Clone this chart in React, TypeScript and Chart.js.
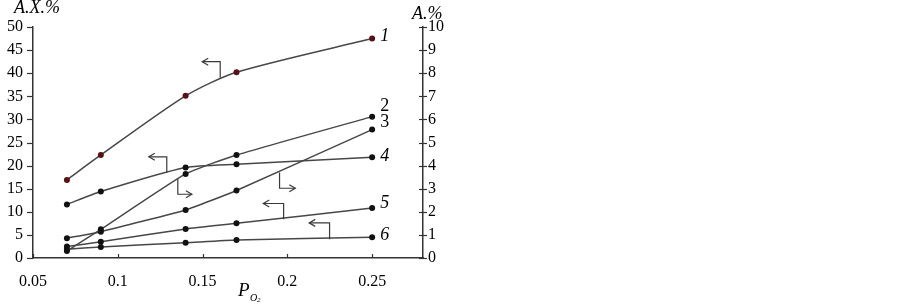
import React, { useEffect, useRef } from "react";
import { Chart, registerables } from "chart.js";

Chart.register(...registerables);

// ---- data ----
const pO2 = [0.07, 0.09, 0.14, 0.17, 0.25];
const series1 = [16.9, 22.3, 35.1, 40.2, 47.5]; // A.X.% (left)
const series2 = [0.3, 1.24, 3.64, 4.46, 6.12]; // A.% (right)
const series3 = [0.86, 1.14, 2.08, 2.92, 5.56]; // A.% (right)
const series4 = [11.6, 14.4, 19.6, 20.3, 21.8]; // A.X.% (left)
const series5 = [2.5, 3.5, 6.3, 7.5, 10.8]; // A.X.% (left)
const series6 = [1.9, 2.4, 3.3, 3.9, 4.5]; // A.X.% (left)
const seriesNames = ["1", "2", "3", "4", "5", "6"];
const xTicks = [0.05, 0.1, 0.15, 0.2, 0.25];
const xTickLabels = ["0.05", "0.1", "0.15", "0.2", "0.25"];
const leftTicks = [0, 5, 10, 15, 20, 25, 30, 35, 40, 45, 50];
const rightTicks = [0, 1, 2, 3, 4, 5, 6, 7, 8, 9, 10];
// arrows in data units (left axis): vertical from (ax, y0) to (ax, y1), then horizontal to x1
const arrowX = [0.1604, 0.1289, 0.1354, 0.1954, 0.1978, 0.2249];
const arrowY0 = [39.0, 18.5, 17.1, 18.5, 8.4, 4.05];
const arrowY1 = [42.5, 21.9, 13.8, 15.1, 11.8, 7.6];
const arrowX1 = [0.1498, 0.1183, 0.1437, 0.2047, 0.1858, 0.2129];

const SERIF = '"Liberation Serif", "Times New Roman", serif';
const LINE = "#474747";
const AXIS = "#333";

const overlay = {
  id: "overlay",
  afterDraw(chart: any) {
    const ctx = chart.ctx;
    const x = chart.scales.x;
    const y = chart.scales.y;
    const y2 = chart.scales.y2;
    const area = chart.chartArea;
    ctx.save();
    ctx.strokeStyle = AXIS;
    ctx.lineWidth = 1.2;
    // left ticks (outward)
    leftTicks.forEach((v) => {
      const py = Math.round(y.getPixelForValue(v)) + 0.5;
      ctx.beginPath();
      ctx.moveTo(area.left - 6, py);
      ctx.lineTo(area.left, py);
      ctx.stroke();
    });
    // right ticks (cross)
    rightTicks.forEach((v) => {
      const py = Math.round(y2.getPixelForValue(v)) + 0.5;
      ctx.beginPath();
      ctx.moveTo(area.right - 4, py);
      ctx.lineTo(area.right + 4, py);
      ctx.stroke();
    });
    // x ticks (inward)
    xTicks.forEach((v) => {
      const px = Math.round(x.getPixelForValue(v)) + 0.5;
      ctx.beginPath();
      ctx.moveTo(px, area.bottom);
      ctx.lineTo(px, area.bottom - 4);
      ctx.stroke();
    });
    // arrows
    ctx.strokeStyle = "#3a3a3a";
    ctx.lineWidth = 1.2;
    arrowX.forEach((ax, i) => {
      const px = x.getPixelForValue(ax);
      const p0 = y.getPixelForValue(arrowY0[i]);
      const p1 = y.getPixelForValue(arrowY1[i]);
      const px1 = x.getPixelForValue(arrowX1[i]);
      ctx.beginPath();
      ctx.moveTo(px, p0);
      ctx.lineTo(px, p1);
      ctx.lineTo(px1, p1);
      ctx.stroke();
      const dir = px1 < px ? 1 : -1;
      ctx.beginPath();
      ctx.moveTo(px1 + dir * 6, p1 - 3.5);
      ctx.lineTo(px1, p1);
      ctx.lineTo(px1 + dir * 6, p1 + 3.5);
      ctx.stroke();
    });
    // series labels
    ctx.fillStyle = "#000";
    ctx.textBaseline = "middle";
    ctx.textAlign = "left";
    const ends = [
      { v: series1[4], s: y, italic: true, dy: -2 },
      { v: series2[4], s: y2, italic: false, dy: -10 },
      { v: series3[4], s: y2, italic: false, dy: -7 },
      { v: series4[4], s: y, italic: true, dy: -1 },
      { v: series5[4], s: y, italic: true, dy: -5 },
      { v: series6[4], s: y, italic: true, dy: -2 },
    ];
    const lx = x.getPixelForValue(pO2[4]);
    ends.forEach((e, i) => {
      ctx.font = (e.italic ? "italic " : "") + "18px " + SERIF;
      ctx.fillText(seriesNames[i], lx + 8, e.s.getPixelForValue(e.v) + e.dy);
    });
    // axis titles
    ctx.font = "italic 18px " + SERIF;
    ctx.textAlign = "left";
    ctx.fillText("A.X.%", 14, 8);
    ctx.fillText("A.%", 412, 14);
    ctx.font = "italic 19px " + SERIF;
    const cx = (area.left + area.right) / 2;
    ctx.fillText("P", cx + 10, 291);
    ctx.font = "italic 10px " + SERIF;
    ctx.fillText("O", cx + 22, 298);
    ctx.font = "italic 7px " + SERIF;
    ctx.fillText("2", cx + 29, 300);
    ctx.restore();
  },
};

export default function App() {
  const ref = useRef<HTMLCanvasElement>(null);
  useEffect(() => {
    if (!ref.current) return;
    const mk = (label: string, data: number[], axis: string, pc: string, tension: number) => ({
      label,
      data: data.map((v, i) => ({ x: pO2[i], y: v })),
      yAxisID: axis,
      borderColor: LINE,
      borderWidth: 1.5,
      pointRadius: 3,
      pointBackgroundColor: pc,
      pointBorderColor: pc,
      pointBorderWidth: 0,
      tension,
      fill: false,
    });
    const chart = new Chart(ref.current, {
      type: "line",
      data: {
        datasets: [
          mk(seriesNames[0], series1, "y", "#5a0f14", 0.25),
          mk(seriesNames[1], series2, "y2", "#111", 0.15),
          mk(seriesNames[2], series3, "y2", "#111", 0.15),
          mk(seriesNames[3], series4, "y", "#111", 0.2),
          mk(seriesNames[4], series5, "y", "#111", 0.15),
          mk(seriesNames[5], series6, "y", "#111", 0.15),
        ] as any,
      },
      options: {
        responsive: false,
        animation: false,
        devicePixelRatio: 1,
        layout: { padding: { top: 27, left: 0, right: 0, bottom: 0 } },
        plugins: { legend: { display: false }, tooltip: { enabled: false } },
        scales: {
          x: {
            type: "linear",
            min: 0.05,
            max: 0.28,
            afterBuildTicks: (s: any) => {
              s.ticks = xTicks.map((v) => ({ value: v }));
            },
            afterFit: (s: any) => {
              s.height = 48;
            },
            grid: { display: false, drawTicks: false },
            border: { display: true, color: AXIS, width: 1.5 },
            ticks: {
              padding: 14,
              maxRotation: 0,
              autoSkip: false,
              color: "#000",
              font: { family: SERIF, size: 16 },
              callback: (v: any) => {
                const i = xTicks.findIndex((t) => Math.abs(t - v) < 1e-9);
                return i >= 0 ? xTickLabels[i] : "";
              },
            },
          },
          y: {
            type: "linear",
            position: "left",
            min: 0,
            max: 50,
            afterBuildTicks: (s: any) => {
              s.ticks = leftTicks.map((v) => ({ value: v }));
            },
            afterFit: (s: any) => {
              s.width = 33;
            },
            grid: { display: false, drawTicks: false },
            border: { display: true, color: AXIS, width: 1.5 },
            ticks: { padding: 10, color: "#000", font: { family: SERIF, size: 16 } },
          },
          y2: {
            type: "linear",
            position: "right",
            min: 0,
            max: 10,
            afterBuildTicks: (s: any) => {
              s.ticks = rightTicks.map((v) => ({ value: v }));
            },
            afterFit: (s: any) => {
              s.width = 479;
            },
            grid: { display: false, drawTicks: false },
            border: { display: true, color: AXIS, width: 1.5 },
            ticks: { padding: 5, color: "#000", font: { family: SERIF, size: 16 } },
          },
        },
      } as any,
      plugins: [overlay],
    });
    return () => chart.destroy();
  }, []);
  return (
    <div style={{ position: "absolute", left: 0, top: 0, width: 902, height: 306, background: "#fff" }}>
      <canvas ref={ref} width={902} height={306} />
    </div>
  );
}
